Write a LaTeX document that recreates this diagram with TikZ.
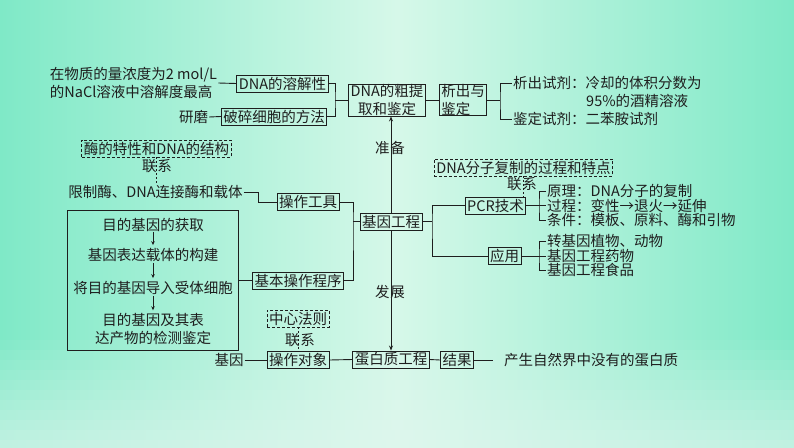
\documentclass[tikz,border=0pt]{standalone}
\usepackage{fontspec}
\setmainfont{Noto Sans CJK SC}
\usetikzlibrary{arrows.meta,calc}
\definecolor{bgedge}{HTML}{7FE9C7}
\definecolor{bgmid}{HTML}{D6F8E9}
\definecolor{bgsea}{HTML}{E2F6EF}
\definecolor{ink}{HTML}{1E1E1E}
\tikzset{
  lbl/.style={inner xsep=1pt,inner ysep=0pt,text=ink,font=\fontsize{14.5}{17.5}\selectfont},
  bx/.style={lbl,draw=ink,line width=0.9pt,inner xsep=2pt,inner ysep=0.5pt,minimum height=17pt},
  dbx/.style={bx,dashed,dash pattern=on 3pt off 2pt},
  ln/.style={draw=ink,line width=0.9pt},
  dln/.style={ln,dash pattern=on 2pt off 2pt},
  arr/.style={ln,-{Stealth[length=5pt,width=4pt]}},
  sarr/.style={ln,line width=0.7pt,-{Stealth[length=4pt,width=3.5pt]}}
}
\begin{document}
\begin{tikzpicture}[x=1pt,y=-1pt]
\useasboundingbox (0,0) rectangle (794,447);
\shade[left color=bgedge,right color=bgedge,middle color=bgmid] (0,0) rectangle (794,447);
\foreach \i in {0,...,11}{
  \fill[bgsea,fill opacity={0.06*\i}] (0,{330+\i*10}) rectangle (794,{340+\i*10});
}
% ---- row 1 ----
\node[lbl,align=left] (t1) at (133.5,83) {在物质的量浓度为2 mol/L\\的NaCl溶液中溶解度最高};
\node[bx] (sol) at (282.5,83.5) {DNA的溶解性};
\node[lbl] (grind) at (193.5,117) {研磨};
\node[bx] (brk) at (274,116.5) {破碎细胞的方法};
\node[bx,align=center] (ext) at (387,100) {DNA的粗提\\取和鉴定};
\node[bx,align=left] (ppt) at (463,100) {析出与\\鉴定};
\node[lbl,anchor=west] (r1) at (512,83) {析出试剂：冷却的体积分数为};
\node[lbl,anchor=west] (r1b) at (585,101) {95\%的酒精溶液};
\node[lbl,anchor=west] (r2) at (512,119) {鉴定试剂：二苯胺试剂};
\coordinate (j1) at (335,100);
\coordinate (j2) at (500,100);
\draw[ln] (t1.east) -- (sol.west);
\draw[ln] (grind.east) -- (brk.west);
\draw[ln] (sol.east) -| (j1) |- (brk.east);
\draw[ln] (j1) -- (ext.west);
\draw[ln] (ext.east) -- (ppt.west);
\draw[ln] (ppt.east) -- (j2);
\draw[ln] (r1.west) -| (j2) |- (r2.west);
% ---- middle ----
\node[bx] (ge) at (391,221.5) {基因工程};
\node[lbl] (prep) at (390,148) {准\hspace{1pt}备};
\draw[arr] (ge.north) -- (ge.north |- ext.south);
\node[dbx] (d1) at (156.5,148.5) {酶的特性和DNA的结构};
\node[lbl] (lx1) at (157,166) {联\hspace{1pt}系};
\node[lbl] (lim) at (155.5,192) {限制酶、DNA连接酶和载体};
\draw[dln] (d1.south) -- (d1.south |- lim.north);
\node[bx] (tool) at (308,202) {操作工具};
\coordinate (j3) at (258,202);
\draw[ln] (lim.east) -| (j3) -- (tool.west);
\node[bx] (prog) at (298,280.5) {基本操作程序};
\coordinate (j4) at (353,221.5);
\draw[ln] (ge.west) -- (j4);
\draw[ln] (tool.east) -| (j4) |- (prog.east);
\node[draw=ink,line width=0.9pt,minimum width=171pt,minimum height=140pt,inner sep=0pt] (big) at (152.5,280) {};
\node[lbl] (s1) at (153,225) {目的基因的获取};
\node[lbl] (s2) at (153,255) {基因表达载体的构建};
\node[lbl] (s3) at (153,288) {将目的基因导入受体细胞};
\node[lbl,align=center] (s4) at (153,329) {目的基因及其表\\达产物的检测鉴定};
\draw[sarr,shorten <=0pt,shorten >=3pt] (s1.south) -- (s2.north);
\draw[sarr,shorten <=1pt,shorten >=3pt] (s2.south) -- (s3.north);
\draw[sarr,shorten <=1pt,shorten >=3pt] (s3.south) -- (s4.north);
\draw[ln] (prog.west) -- (prog.west -| big.east);
\node[bx] (pcr) at (495.5,205.5) {PCR技术};
\node[bx] (app) at (504.5,256) {应用};
\coordinate (j5) at (432,221.5);
\draw[ln] (ge.east) -- (j5);
\draw[ln] (pcr.west) -| (j5) |- (app.west);
\node[dbx] (d2) at (523.5,167.5) {DNA分子复制的过程和特点};
\node[lbl] (lx2) at (522,184) {联\hspace{1pt}系};
\draw[dln] (d2.south) -- (d2.south |- pcr.north);
\node[lbl,anchor=west] (p1) at (546,191) {原理：DNA分子的复制};
\node[lbl,anchor=west] (p2) at (546,205.5) {过程：变性→退火→延伸};
\node[lbl,anchor=west] (p3) at (546,220) {条件：模板、原料、酶和引物};
\coordinate (j6) at (539,205.5);
\draw[ln] (pcr.east) -- (p2.west);
\draw[ln] (p1.west) -| (j6) |- (p3.west);
\node[lbl,anchor=west] (a1) at (546,241) {转基因植物、动物};
\node[lbl,anchor=west] (a2) at (546,256) {基因工程药物};
\node[lbl,anchor=west] (a3) at (546,270) {基因工程食品};
\coordinate (j7) at (539,256);
\draw[ln] (app.east) -- (a2.west);
\draw[ln] (a1.west) -| (j7) |- (a3.west);
% ---- bottom ----
\node[lbl] (dev) at (390,292) {发\hspace{1pt}展};
\node[bx] (pe) at (391,359.5) {蛋白质工程};
\draw[arr] (ge.south) -- (ge.south |- pe.north);
\node[bx] (obj) at (298,360) {操作对象};
\node[lbl] (gene) at (229,360) {基因};
\node[bx] (res) at (457,360) {结果};
\node[lbl,anchor=west] (prod) at (503,360) {产生自然界中没有的蛋白质};
\draw[ln] (gene.east) -- (obj.west);
\draw[ln] (obj.east) -- (pe.west);
\draw[ln] (pe.east) -- (res.west);
\draw[ln,shorten >=10pt] (res.east) -- (prod.west);
\node[dbx] (d3) at (298,318.5) {中心法则};
\node[lbl] (lx3) at (300,340) {联\hspace{1pt}系};
\draw[dln] (d3.south) -- (d3.south |- obj.north);
\end{tikzpicture}
\end{document}
